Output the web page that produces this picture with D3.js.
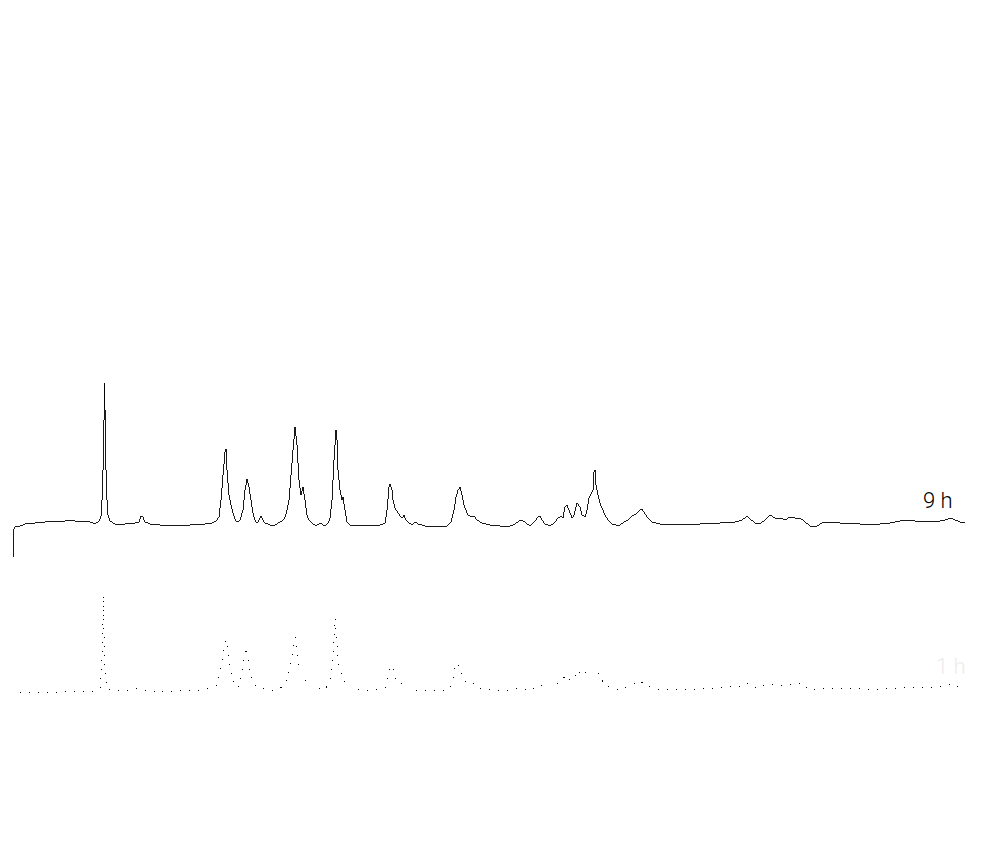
<!DOCTYPE html>
<html>
<head>
<meta charset="utf-8">
<script src="https://cdn.jsdelivr.net/npm/d3@7"></script>
<style>
  html, body { margin: 0; padding: 0; background: #fff; }
  svg { display: block; }
</style>
</head>
<body>
<svg id="chart" width="982" height="850"></svg>
<script>
// ---- Data (2θ in degrees, intensity in a.u. relative to each pattern's baseline) ----
const seriesNames = ["9 h", "1 h"];
const seriesOffsets = [234, 67];

const twoTheta9h = [10.0,10.05,10.2,10.7,11.2,12.2,13.2,14.2,15.2,15.7,16.2,16.7,17.2,17.7,18.2,18.6,18.8,18.9,19.0,19.1,19.15,19.2,19.3,19.4,19.5,19.7,20.2,21.2,22.2,22.6,22.8,23.0,23.2,23.7,24.7,26.2,27.7,29.2,29.9,30.3,30.6,30.8,31.0,31.2,31.3,31.4,31.6,31.8,32.0,32.2,32.4,32.7,33.0,33.2,33.4,33.6,33.8,34.0,34.2,34.4,34.6,34.8,35.0,35.2,35.7,36.2,36.7,37.0,37.2,37.4,37.6,37.8,38.0,38.2,38.4,38.6,38.8,39.0,39.2,39.4,39.6,39.9,40.3,40.7,41.2,41.5,41.7,41.9,42.1,42.3,42.4,42.5,42.7,42.9,43.0,43.2,43.4,43.7,45.7,46.7,47.2,47.4,47.6,47.7,47.9,48.0,48.2,48.5,48.9,49.1,49.3,49.6,49.9,50.2,50.5,51.2,52.2,53.4,53.8,54.1,54.3,54.5,54.7,54.9,55.1,55.3,55.5,55.8,56.1,56.4,56.9,57.7,58.7,59.7,60.2,60.6,60.9,61.4,61.7,62.2,62.5,62.7,62.9,63.2,63.7,64.2,64.5,64.8,65.0,65.2,65.4,65.6,65.9,66.1,66.4,66.7,66.9,67.2,67.4,67.6,67.8,68.0,68.1,68.2,68.3,68.5,68.7,68.9,69.2,69.5,69.9,70.3,70.7,71.1,71.5,71.9,72.3,72.7,72.9,73.2,73.5,73.9,74.7,76.7,78.7,80.7,82.2,82.9,83.4,83.7,84.2,84.7,85.2,85.7,86.2,86.7,87.2,87.7,88.2,88.7,89.2,89.7,90.2,90.9,91.7,92.7,93.7,94.7,95.7,96.7,97.7,98.7,99.4,100.2,101.2,102.2,103.2,103.7,104.2,104.7,105.2];
const intensity9h = [-34,-7,-4,-3,-1,0,1,2,2,3,2,1,2,1,-1,2,7,23,53,103,140,113,53,23,8,2,-1,-1,0,1,7,6,1,-1,-2,-2,-2,-1,0,2,6,23,48,71,74,53,28,18,10,4,1,3,13,33,44,36,23,10,3,0,3,7,3,0,-2,-2,1,3,6,13,23,48,73,96,78,43,28,36,23,8,3,0,-3,0,-3,0,5,23,63,93,83,53,33,23,26,13,1,-2,-2,-2,0,13,36,39,33,23,15,10,5,8,3,0,-2,1,-1,-3,-3,-3,1,13,26,33,36,28,18,13,8,6,7,3,0,-2,-3,-3,-1,2,3,-1,-3,2,6,7,3,-1,-3,1,5,7,5,16,18,13,5,8,20,16,8,6,13,25,29,33,51,53,38,28,20,15,8,3,-1,-2,-2,1,3,7,9,13,14,9,5,1,-1,-1,-1,0,1,3,7,4,0,-1,3,8,5,5,3,6,5,5,1,-3,-4,0,1,0,0,-1,-1,-1,0,2,3,2,2,1,3,5,3,1,0];

const twoTheta1h = [10.7,12.7,14.7,16.7,18.2,18.7,18.9,19.0,19.05,19.1,19.2,19.4,19.7,21.7,22.8,23.2,24.7,26.7,28.7,29.9,30.4,30.7,31.0,31.2,31.4,31.6,31.9,32.2,32.5,32.9,33.2,33.3,33.5,33.8,34.1,34.5,34.9,35.5,36.2,36.9,37.3,37.6,37.9,38.2,38.4,38.6,38.9,39.2,39.5,39.9,40.5,41.2,41.7,42.0,42.2,42.3,42.5,42.7,43.0,43.3,43.7,44.7,45.7,46.7,47.2,47.5,47.8,48.0,48.3,48.7,49.1,49.5,50.2,51.7,53.2,53.7,54.0,54.2,54.4,54.7,55.1,55.5,56.0,56.5,57.7,59.7,60.7,61.7,62.7,63.7,64.7,65.3,65.7,66.2,66.5,66.9,67.4,67.7,67.9,68.2,68.5,68.9,69.3,69.9,70.7,71.7,72.7,73.5,74.2,76.7,78.7,80.7,82.7,83.5,84.2,85.7,87.2,88.7,89.7,91.2,92.7,94.7,96.7,98.7,100.2,102.2,103.7,105.2];
const intensity1h = [-3,-2,-2,-1,-1,2,30,70,95,60,20,2,0,0,2,0,-2,-1,0,2,5,18,35,48,50,30,15,5,2,15,38,43,30,15,6,2,2,0,0,3,7,18,35,53,38,22,18,10,5,2,2,0,10,35,72,60,30,18,15,5,2,0,0,1,2,15,29,22,10,6,8,3,0,0,0,2,12,22,27,20,10,6,7,2,0,0,2,0,5,1,8,15,10,12,20,14,20,29,25,22,17,10,4,2,0,4,9,4,1,1,1,2,4,7,2,6,4,7,0,2,2,1,1,2,3,2,6,2];

// ---- Scales ----
const svg = d3.select("#chart");
const x = d3.scaleLinear().domain([10, 105.4]).range([13, 967]);
const y = d3.scaleLinear().domain([0, 400]).range([757, 357]);

const series = [
  { name: seriesNames[0], offset: seriesOffsets[0], pts: d3.zip(twoTheta9h, intensity9h) },
  { name: seriesNames[1], offset: seriesOffsets[1], pts: d3.zip(twoTheta1h, intensity1h) }
];

const line = off => d3.line()
  .x(d => x(d[0]))
  .y(d => y(d[1] + off));

// 9 h pattern: thin line
svg.append("path")
  .attr("d", line(series[0].offset)(series[0].pts))
  .attr("fill", "none")
  .attr("stroke", "#000")
  .attr("stroke-width", 0.9)
  .attr("shape-rendering", "crispEdges");

// 1 h pattern: faint, broken trace
svg.append("path")
  .attr("d", line(series[1].offset)(series[1].pts))
  .attr("fill", "none")
  .attr("stroke", "#000")
  .attr("stroke-width", 1)
  .attr("stroke-dasharray", "1 8")
  .attr("shape-rendering", "crispEdges");

// Labels
svg.append("text")
  .attr("x", x(101.0))
  .attr("y", y(15 + series[0].offset))
  .attr("font-family", "Roboto, 'Liberation Sans', Arial, sans-serif")
  .attr("font-weight", 300)
  .attr("font-size", 22)
  .attr("fill", "#000")
  .text(series[0].name);

svg.append("text")
  .attr("x", x(102.3))
  .attr("y", y(16 + series[1].offset))
  .attr("font-family", "Roboto, 'Liberation Sans', Arial, sans-serif")
  .attr("font-weight", 300)
  .attr("font-size", 22)
  .attr("fill", "#ececec")
  .text(series[1].name);
</script>
</body>
</html>
